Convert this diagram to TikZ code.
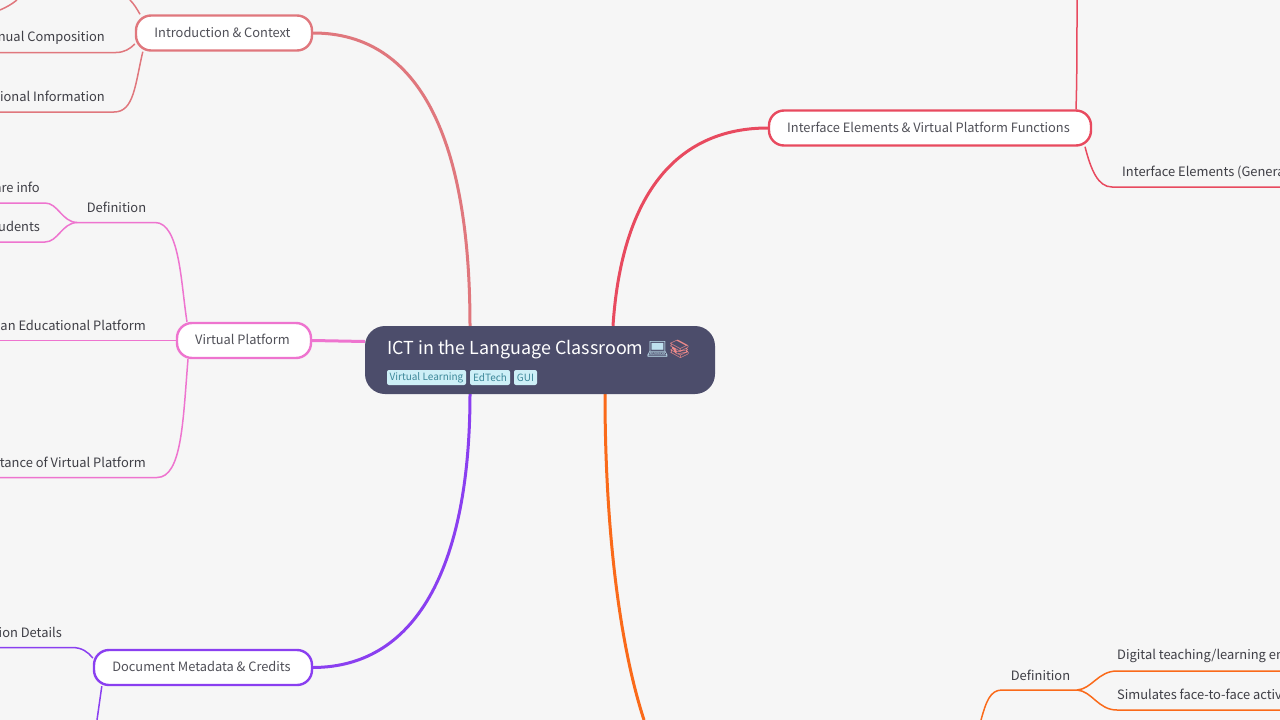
\documentclass[tikz,border=0pt]{standalone}
\usepackage{fontspec}
\setmainfont{Noto Sans CJK JP}
\newfontfamily\emojifont{Noto Emoji}
\definecolor{bgc}{HTML}{F6F6F6}
\definecolor{rootc}{HTML}{4C4D6B}
\definecolor{introc}{HTML}{E0777D}
\definecolor{virtc}{HTML}{EE74CF}
\definecolor{metac}{HTML}{8A3FF0}
\definecolor{ifacec}{HTML}{E84A5F}
\definecolor{orangec}{HTML}{FA6A1A}
\definecolor{txtc}{HTML}{3F3F46}
\definecolor{toptxt}{HTML}{505058}
\definecolor{tagfill}{HTML}{CDEFF7}
\definecolor{tagtxt}{HTML}{3C8799}
\definecolor{emoa}{HTML}{BFE0EE}
\definecolor{emob}{HTML}{F08A8A}
\newcommand{\lift}[1]{\raisebox{1.9pt}{\hspace{-3pt}#1}}
\tikzset{
  x=1pt,y=-1pt,
  rootbox/.style={fill=rootc,rounded corners=20pt,minimum width=350pt,minimum height=68pt,inner sep=0pt},
  topbox/.style={draw=#1,fill=white,line width=2.4pt,rounded corners=15pt,inner sep=0pt,text=toptxt,font=\fontsize{12.85}{15}\selectfont},
  leaf/.style={inner sep=0pt,text=txtc,font=\fontsize{12.9}{15}\selectfont},
  tagbox/.style={fill=tagfill,rounded corners=2pt,inner sep=0pt,text=tagtxt,minimum height=15pt,font=\fontsize{10}{12}\selectfont},
  main/.style={draw=#1,line width=3pt},
  sub/.style={draw=#1,line width=1.5pt},
}
\begin{document}
\begin{tikzpicture}
\useasboundingbox (0,0) rectangle (1280,720);
\clip (0,0) rectangle (1280,720);
\fill[bgc] (0,0) rectangle (1280,720);

\pgfdeclarelayer{front}\pgfsetlayers{main,front}
\begin{pgfonlayer}{front}
\node[rootbox] (root) at (540,360) {};
\node[anchor=west,inner sep=0pt,text=white,font=\fontsize{17.9}{21}\selectfont] (title) at (387,350) {ICT in the Language Classroom};
\node[anchor=west,inner sep=0pt,text=emoa,font=\emojifont\fontsize{18}{22}\selectfont] (emoa) at (646,349.5) {💻};
\node[anchor=west,inner sep=0pt,text=emob,font=\emojifont\fontsize{18}{22}\selectfont] (emob) at (668,349.5) {📚};
\node[tagbox,minimum width=79pt] (t1) at (426.5,377.5) {\raisebox{-0.8pt}{Virtual Learning}};
\node[tagbox,minimum width=40pt] (t2) at (490,377.5) {\raisebox{-0.8pt}{EdTech}};
\node[tagbox,minimum width=23pt] (t3) at (525.5,377.5) {\raisebox{-0.8pt}{GUI}};

\node[topbox=introc,minimum width=176pt,minimum height=35pt] (intro) at (224,33) {\lift{Introduction \& Context}};
\node[topbox=virtc,minimum width=134pt,minimum height=35pt] (virt) at (244,340.5) {\lift{Virtual Platform}};
\node[topbox=metac,minimum width=218pt,minimum height=35pt] (meta) at (203,667.5) {\lift{Document Metadata \& Credits}};
\node[topbox=ifacec,minimum width=322pt,minimum height=35pt] (iface) at (930,128) {\lift{Interface Elements \& Virtual Platform Functions}};
\end{pgfonlayer}

% leaf labels
\node[leaf,anchor=east] (comp) at (105,37.5) {nual Composition};
\node[leaf,anchor=east] (info) at (105,96.5) {ional Information};
\node[leaf] (vdef) at (116.5,207.5) {Definition};
\node[leaf,anchor=east] (share) at (40,187.5) {are info};
\node[leaf,anchor=east] (stud) at (40,226.7) {udents};
\node[leaf,anchor=east] (edu) at (146,325.5) {an Educational Platform};
\node[leaf,anchor=east] (imp) at (146,462.5) {tance of Virtual Platform};
\node[leaf,anchor=east] (pub) at (62,632.5) {ion Details};
\node[leaf,anchor=west] (gen) at (1122,172) {Interface Elements (Genera};
\node[leaf] (odef) at (1040.5,675.5) {Definition};
\node[leaf,anchor=west] (dig) at (1117,655.8) {Digital teaching/learning en};
\node[leaf,anchor=west] (sim) at (1117,694.5) {Simulates face-to-face activ};

% free ends
\coordinate (eTopL) at (0,10);
\coordinate (eTopLb) at (17,0);
\coordinate (eTopR) at (130,0);
\coordinate (eIfaceTop) at (1077,0);
\coordinate (eOrange) at (644,720);
\coordinate (eMeta) at (97,720);
\coordinate (eODef) at (981,720);

% main branches
\draw[main=introc] (intro.east) .. controls (420,33) and (470,140) .. ([xshift=-70pt]root.north);
\draw[main=virtc] (virt.east) -- (root.west |- 0,341.5);
\draw[main=metac] (meta.east) .. controls (420,667) and (470,560) .. ([xshift=-70pt]root.south);
\draw[main=ifacec] (iface.west) .. controls (680,128) and (622,190) .. ([xshift=73pt]root.north);
\draw[main=orangec] ([xshift=65pt]root.south) .. controls (605,520) and (618,640) .. (eOrange);

% intro children
\draw[sub=introc] ([xshift=-84pt]intro.north) .. controls (137,9) and (134,4) .. (eTopR);
\draw[sub=introc] (eTopL) .. controls (7,7) and (12,4) .. (eTopLb);
\draw[sub=introc] (0,52.5) -- (116,52.5) .. controls (124,52.5) and (130,49) .. ([yshift=-11pt]intro.west);
\draw[sub=introc] (0,112) -- (114,112) .. controls (134,112) and (135,85) .. ([xshift=8pt]intro.south west);

% virtual children
\draw[sub=virtc] ([xshift=-57pt]virt.north) .. controls (181,285) and (180,222.5) .. (155,222.5) -- (77,222.5);
\draw[sub=virtc] (77,222.5) .. controls (62,222) and (58,203) .. (45,203) -- (0,203);
\draw[sub=virtc] (77,222.5) .. controls (62,223) and (58,242) .. (45,242) -- (0,242);
\draw[sub=virtc] (virt.west) -- (0,340.5);
\draw[sub=virtc] ([xshift=-56pt]virt.south) .. controls (183,420) and (182,477.5) .. (157,477.5) -- (0,477.5);

% metadata children
\draw[sub=metac] ([yshift=9.5pt]meta.west) .. controls (88,652) and (82,647.5) .. (72,647.5) -- (0,647.5);
\draw[sub=metac] ([xshift=9pt]meta.south west) -- (eMeta);

% interface children
\draw[sub=ifacec] ([xshift=146pt]iface.north) .. controls (1077,80) and (1077,40) .. (eIfaceTop);
\draw[sub=ifacec] ([xshift=155pt]iface.south) .. controls (1091,170) and (1098,187) .. (1112,187) -- (1280,187);

% orange children
\draw[sub=orangec] (eODef) .. controls (986,702) and (990,690) .. (1002,690) -- (1077,690);
\draw[sub=orangec] (1077,690) .. controls (1092,689) and (1098,671) .. (1117,671) -- (1280,671);
\draw[sub=orangec] (1077,690) .. controls (1092,691) and (1098,710) .. (1117,710) -- (1280,710);
\end{tikzpicture}
\end{document}
